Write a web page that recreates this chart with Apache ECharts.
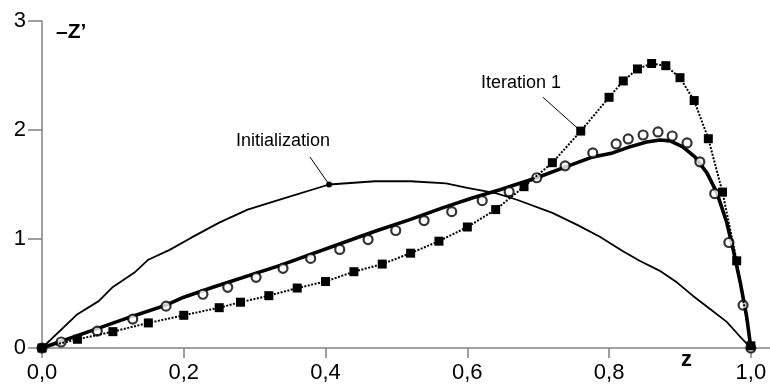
<!DOCTYPE html>
<html>
<head>
<meta charset="utf-8">
<script src="https://cdn.jsdelivr.net/npm/echarts@6/dist/echarts.min.js"></script>
<style>
  html, body { margin: 0; padding: 0; background: #fff; }
  #chart { width: 770px; height: 384px; }
</style>
</head>
<body>
<div id="chart"></div>
<script>
// Axis ticks
const xTickValues = [0, 0.2, 0.4, 0.6, 0.8, 1.0];
const yTickValues = [0, 1, 2, 3];

// Initial guess profile of -Z' along z
const initialization = [
  [0, 0], [0.05, 0.31], [0.08, 0.43], [0.10, 0.56], [0.13, 0.69], [0.15, 0.81],
  [0.18, 0.90], [0.21, 1.01], [0.25, 1.15], [0.29, 1.27], [0.34, 1.37], [0.405, 1.50],
  [0.47, 1.53], [0.52, 1.53], [0.57, 1.51], [0.60, 1.47], [0.64, 1.42], [0.67, 1.36],
  [0.72, 1.24], [0.755, 1.13], [0.787, 1.02], [0.819, 0.89], [0.843, 0.80], [0.871, 0.71],
  [0.896, 0.60], [0.918, 0.48], [0.942, 0.36], [0.966, 0.24], [0.984, 0.11], [1.0, 0]
];

// Converged solution (thick line)
const solution = [
  [0, 0], [0.072, 0.164], [0.128, 0.292], [0.175, 0.393], [0.200, 0.466], [0.241, 0.557],
  [0.336, 0.758], [0.449, 1.023], [0.473, 1.078], [0.519, 1.178], [0.566, 1.288],
  [0.608, 1.379], [0.646, 1.452], [0.698, 1.562], [0.735, 1.653], [0.777, 1.753],
  [0.805, 1.790], [0.829, 1.845], [0.853, 1.890], [0.872, 1.909], [0.886, 1.900],
  [0.904, 1.845], [0.921, 1.753], [0.938, 1.607], [0.952, 1.425], [0.966, 1.151],
  [0.975, 0.904], [0.985, 0.603], [0.994, 0.292], [1.0, 0]
];

// Reference points (open circles)
const referencePoints = [
  [0, 0], [0.027, 0.055], [0.078, 0.155], [0.128, 0.265], [0.175, 0.384], [0.227, 0.493],
  [0.262, 0.557], [0.302, 0.648], [0.340, 0.731], [0.379, 0.822], [0.420, 0.904],
  [0.460, 0.995], [0.499, 1.078], [0.539, 1.169], [0.578, 1.251], [0.621, 1.352],
  [0.659, 1.434], [0.698, 1.562], [0.738, 1.671], [0.777, 1.790], [0.810, 1.872],
  [0.827, 1.918], [0.848, 1.954], [0.869, 1.982], [0.889, 1.945], [0.910, 1.881],
  [0.928, 1.708], [0.949, 1.416], [0.969, 0.968], [0.989, 0.393], [1.0, 0]
];

// First iteration (filled squares, dotted)
const iteration1 = [
  [0, 0], [0.05, 0.08], [0.10, 0.15], [0.15, 0.23], [0.20, 0.30], [0.25, 0.37],
  [0.28, 0.42], [0.32, 0.48], [0.36, 0.55], [0.40, 0.61], [0.44, 0.70], [0.48, 0.77],
  [0.52, 0.87], [0.56, 0.98], [0.60, 1.11], [0.64, 1.27], [0.68, 1.48], [0.72, 1.70],
  [0.76, 1.99], [0.80, 2.30], [0.82, 2.45], [0.84, 2.56], [0.86, 2.61], [0.88, 2.59],
  [0.90, 2.48], [0.92, 2.27], [0.94, 1.92], [0.96, 1.43], [0.98, 0.80], [1.00, 0.02]
];

// Callout texts with their anchor point on the curve
const initLabel = 'Initialization';
const initAnchor = [0.405, 1.50];
const iterLabel = 'Iteration 1';
const iterAnchor = [0.76, 1.99];

// Callout placement (data coordinates)
const callouts = {
  init: { text: [0.340, 1.90], elbow: [0.378, 1.753] },
  iter: { text: [0.6756, 2.429], elbow: [0.7066, 2.301] }
};

const AXIS_COLOR = '#808080';
const FONT = '"Liberation Sans", Arial, sans-serif';

function calloutText(coord, text) {
  return {
    coord: coord,
    symbol: 'rect',
    symbolSize: 1,
    itemStyle: { color: 'rgba(0,0,0,0)' },
    label: {
      show: true, position: 'inside', formatter: text,
      color: '#000', fontFamily: FONT, fontSize: 18
    }
  };
}

const chart = echarts.init(document.getElementById('chart'), null, { renderer: 'canvas' });

chart.setOption({
  animation: false,
  backgroundColor: '#fff',
  grid: { left: 42, right: 0, top: 21, bottom: 35, containLabel: false },
  xAxis: {
    type: 'value',
    min: 0,
    max: 1.027,
    axisLine: { show: true, onZero: false, lineStyle: { color: AXIS_COLOR, width: 1.5 } },
    axisTick: { show: true, length: 10, customValues: xTickValues, lineStyle: { color: AXIS_COLOR, width: 1.5 } },
    axisLabel: {
      show: true, customValues: xTickValues, margin: 14,
      color: '#000', fontFamily: FONT, fontSize: 22,
      formatter: v => v.toFixed(1).replace('.', ',')
    },
    splitLine: { show: false }
  },
  yAxis: {
    type: 'value',
    min: 0,
    max: 3,
    axisLine: { show: true, lineStyle: { color: AXIS_COLOR, width: 1.5 } },
    axisTick: { show: true, length: 14, customValues: yTickValues, lineStyle: { color: AXIS_COLOR, width: 1.5 } },
    axisLabel: {
      show: true, customValues: yTickValues, margin: 16,
      color: '#000', fontFamily: FONT, fontSize: 22,
      formatter: v => String(v)
    },
    splitLine: { show: false }
  },
  graphic: [
    {
      type: 'text', left: 56, top: 22,
      style: { text: '\u2013Z\u2019', fill: '#000', font: 'bold 21px ' + FONT }
    },
    {
      type: 'text', left: 681, top: 349,
      style: { text: 'z', fill: '#000', font: 'bold 22px ' + FONT }
    }
  ],
  series: [
    {
      name: initLabel,
      type: 'line',
      data: initialization,
      showSymbol: false,
      symbol: 'none',
      lineStyle: { color: '#000', width: 1.8 },
      z: 2,
      markPoint: {
        silent: true,
        data: [
          { coord: initAnchor, symbol: 'circle', symbolSize: 6, itemStyle: { color: '#000' }, label: { show: false } },
          calloutText(callouts.init.text, initLabel)
        ]
      },
      markLine: {
        silent: true,
        symbol: ['none', 'none'],
        label: { show: false },
        lineStyle: { color: '#000', width: 1, type: 'solid' },
        data: [[{ coord: initAnchor }, { coord: callouts.init.elbow }]]
      }
    },
    {
      name: 'solution',
      type: 'line',
      data: solution,
      showSymbol: false,
      symbol: 'none',
      lineStyle: { color: '#000', width: 3.6 },
      z: 3
    },
    {
      name: 'reference',
      type: 'scatter',
      data: referencePoints,
      symbol: 'circle',
      symbolSize: 9,
      itemStyle: { color: '#fff', borderColor: '#000', borderWidth: 2.2 },
      z: 4
    },
    {
      name: iterLabel,
      type: 'line',
      data: iteration1,
      symbol: 'rect',
      symbolSize: 9,
      showAllSymbol: true,
      itemStyle: { color: '#000' },
      lineStyle: { color: '#000', width: 2, type: [2, 1.5] },
      z: 5,
      markPoint: {
        silent: true,
        data: [calloutText(callouts.iter.text, iterLabel)]
      },
      markLine: {
        silent: true,
        symbol: ['none', 'none'],
        label: { show: false },
        lineStyle: { color: '#000', width: 1, type: 'solid' },
        data: [[{ coord: iterAnchor }, { coord: callouts.iter.elbow }]]
      }
    }
  ]
});
</script>
</body>
</html>
